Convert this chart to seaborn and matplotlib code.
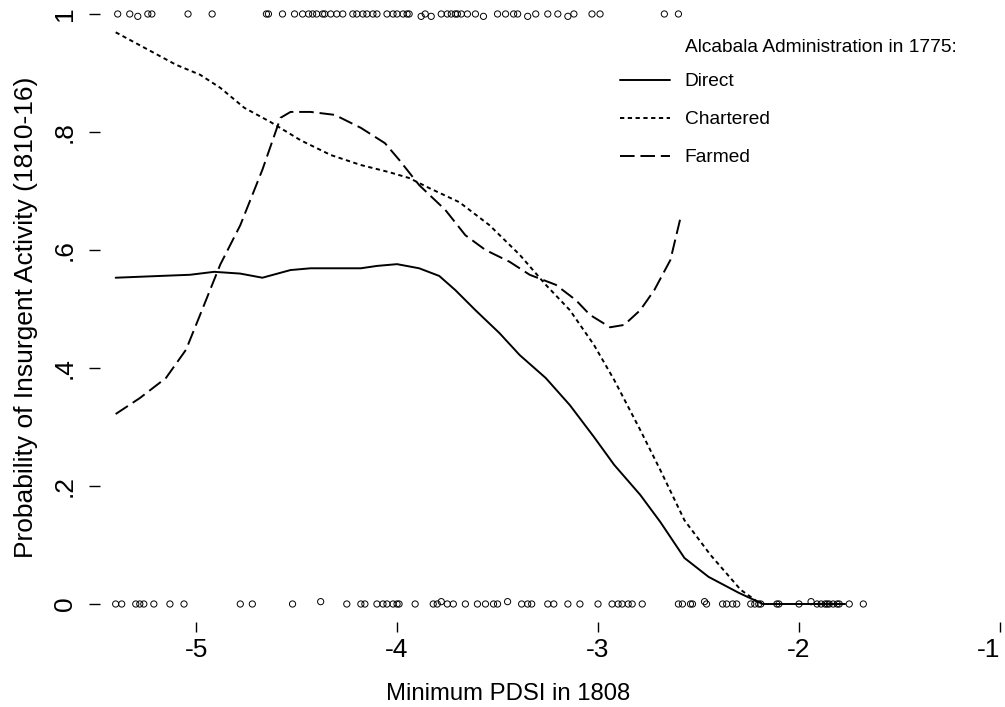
import numpy as np
import pandas as pd
import seaborn as sns
import matplotlib.pyplot as plt
from matplotlib.lines import Line2D

sns.set_style('white')
plt.rcParams['font.family'] = ['Liberation Sans', 'DejaVu Sans']
plt.rcParams['text.color'] = 'black'

# fitted probability curves (x = minimum PDSI in 1808)
direct_x = [-5.40, -5.18, -5.03, -4.91, -4.78, -4.67, -4.53, -4.43, -4.18, -4.10, -4.00,
            -3.89, -3.79, -3.71, -3.61, -3.49, -3.39, -3.26, -3.14, -3.02, -2.92, -2.79,
            -2.69, -2.57, -2.45, -2.30, -2.18, -2.00, -1.77]
direct_y = [0.553, 0.556, 0.558, 0.563, 0.560, 0.553, 0.566, 0.569, 0.569, 0.573, 0.576,
            0.569, 0.556, 0.532, 0.498, 0.459, 0.422, 0.383, 0.337, 0.283, 0.236, 0.185,
            0.139, 0.078, 0.046, 0.019, 0.0, 0.0, 0.0]

chartered_x = [-5.40, -5.28, -5.10, -4.98, -4.88, -4.76, -4.63, -4.48, -4.33, -4.18, -4.04,
               -3.94, -3.84, -3.69, -3.54, -3.39, -3.26, -3.14, -3.02, -2.92, -2.79, -2.69,
               -2.57, -2.44, -2.29, -2.19]
chartered_y = [0.969, 0.947, 0.914, 0.897, 0.875, 0.841, 0.817, 0.786, 0.761, 0.744, 0.732,
               0.722, 0.705, 0.681, 0.642, 0.592, 0.541, 0.498, 0.439, 0.380, 0.295, 0.227,
               0.142, 0.083, 0.024, 0.0]

farmed_x = [-5.40, -5.28, -5.15, -5.05, -4.98, -4.88, -4.78, -4.67, -4.58, -4.53, -4.43,
            -4.31, -4.18, -4.06, -3.99, -3.89, -3.76, -3.66, -3.56, -3.44, -3.34, -3.21,
            -3.11, -3.04, -2.94, -2.87, -2.79, -2.72, -2.64, -2.59]
farmed_y = [0.322, 0.349, 0.383, 0.431, 0.490, 0.575, 0.642, 0.736, 0.824, 0.834, 0.834,
            0.829, 0.807, 0.781, 0.753, 0.710, 0.668, 0.625, 0.600, 0.580, 0.558, 0.541,
            0.515, 0.490, 0.469, 0.473, 0.498, 0.532, 0.583, 0.654]

# observed districts: no insurgency (0) / insurgency (1)
pdsi_no = [-5.40, -5.37, -5.30, -5.28, -5.26, -5.21, -5.13, -5.06, -4.78, -4.72, -4.52,
           -4.25, -4.18, -4.16, -4.10, -4.07, -4.05, -4.02, -4.00, -3.99, -3.91, -3.82,
           -3.80, -3.75, -3.72, -3.66, -3.60, -3.56, -3.52, -3.50, -3.38, -3.35, -3.33,
           -3.25, -3.22, -3.15, -3.09, -3.00, -2.93, -2.90, -2.88, -2.85, -2.83, -2.78,
           -2.60, -2.58, -2.54, -2.53, -2.46, -2.38, -2.36, -2.33, -2.31, -2.24, -2.22,
           -2.20, -2.19, -2.11, -2.10, -2.00, -1.91, -1.89, -1.87, -1.86, -1.85, -1.83,
           -1.81, -1.80, -1.75, -1.68]
pdsi_no_jit = [-4.38, -3.78, -3.45, -2.47, -1.94]
pdsi_yes = [-5.39, -5.33, -5.24, -5.22, -5.04, -4.92, -4.65, -4.64, -4.57, -4.51, -4.47,
            -4.44, -4.42, -4.40, -4.37, -4.36, -4.33, -4.30, -4.27, -4.22, -4.20, -4.17,
            -4.15, -4.12, -4.10, -4.05, -4.02, -4.00, -3.97, -3.95, -3.94, -3.86, -3.78,
            -3.75, -3.73, -3.71, -3.70, -3.68, -3.65, -3.61, -3.50, -3.46, -3.42, -3.40,
            -3.31, -3.25, -3.20, -3.12, -3.03, -2.99, -2.67, -2.60]
pdsi_yes_jit = [-5.29, -3.88, -3.83, -3.57, -3.35, -3.15]

labels = ['Direct', 'Chartered', 'Farmed']
dash_map = {'Direct': '', 'Chartered': (2.2, 1.8), 'Farmed': (7.5, 3)}

curves = pd.concat([
    pd.DataFrame({'pdsi': direct_x, 'prob': direct_y, 'admin': 'Direct'}),
    pd.DataFrame({'pdsi': chartered_x, 'prob': chartered_y, 'admin': 'Chartered'}),
    pd.DataFrame({'pdsi': farmed_x, 'prob': farmed_y, 'admin': 'Farmed'}),
])

fig = plt.figure(figsize=(10.05, 7.07), dpi=100)
ax = fig.add_axes([100 / 1005, 85 / 707, 905 / 1005, 622 / 707])

pts_x = pdsi_no + pdsi_no_jit + pdsi_yes + pdsi_yes_jit
pts_y = [0.0] * len(pdsi_no) + [0.004] * len(pdsi_no_jit) + [1.0] * len(pdsi_yes) + [0.996] * len(pdsi_yes_jit)
sns.scatterplot(x=pts_x, y=pts_y, ax=ax, marker='o', s=20, facecolors='none',
                edgecolors='black', linewidth=0.7, zorder=3)

sns.lineplot(data=curves, x='pdsi', y='prob', style='admin', dashes=dash_map,
             color='black', lw=1.4, estimator=None, sort=False, legend=False, ax=ax)

ax.set_xlim(-5.478, -0.975)
ax.set_ylim(-0.0305, 1.0237)
ax.set_xticks([-5, -4, -3, -2, -1])
ax.set_xticklabels(['-5', '-4', '-3', '-2', '-1'])
ax.set_yticks([0, 0.2, 0.4, 0.6, 0.8, 1])
ax.set_yticklabels(['0', '.2', '.4', '.6', '.8', '1'])
for s in ax.spines.values():
    s.set_visible(False)
ax.tick_params(axis='x', bottom=True, direction='out', length=7.2, width=1, pad=4.3,
               labelsize=19, colors='black')
ax.tick_params(axis='y', left=True, direction='out', length=8, width=1, pad=8.6,
               labelsize=19, colors='black', labelrotation=90)
for lab in ax.get_yticklabels():
    lab.set_va('center')
# last x label sits at the right edge of the figure
ax.get_xticklabels()[-1].set_ha('right')

ax.set_xlabel('Minimum PDSI in 1808', fontsize=17.2, color='black')
ax.xaxis.set_label_coords(0.451, -0.098)
ax.set_ylabel('Probability of Insurgent Activity (1810-16)', fontsize=19, color='black')
ax.yaxis.set_label_coords(-0.069, 0.49)

handles = [Line2D([], [], color='black', lw=1.4, linestyle='-'),
           Line2D([], [], color='black', lw=1.4, dashes=dash_map['Chartered']),
           Line2D([], [], color='black', lw=1.4, dashes=dash_map['Farmed'])]
ax.legend(handles, labels, loc='upper left', bbox_to_anchor=(620 / 1005, 1 - 73 / 707),
          bbox_transform=fig.transFigure, frameon=False, fontsize=13.8, handlelength=2.6,
          handletextpad=0.78, labelspacing=1.07, borderpad=0, borderaxespad=0)
fig.text(685 / 1005, 1 - 47 / 707, 'Alcabala Administration in 1775:', fontsize=13.8,
         va='center', ha='left')

fig.savefig('out.png', dpi=100)
